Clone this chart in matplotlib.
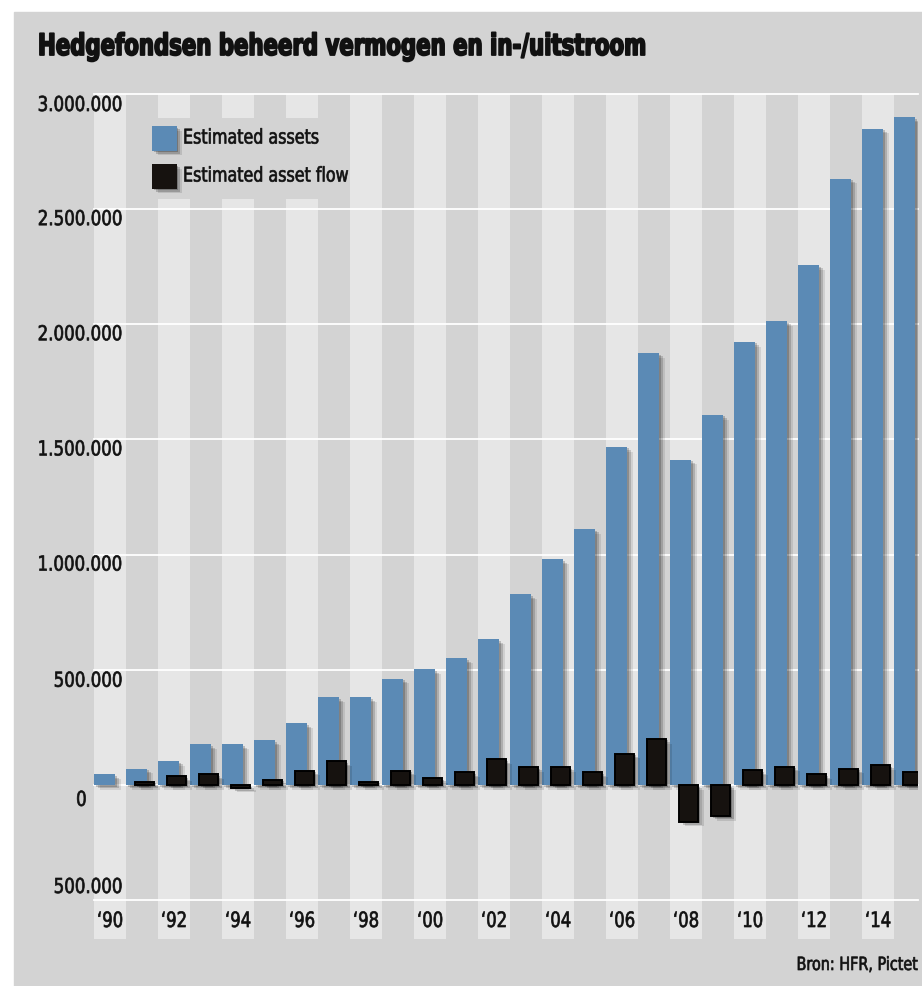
import matplotlib
matplotlib.use("Agg")
import matplotlib.pyplot as plt
import matplotlib.patheffects as pe
import matplotlib.transforms as mtransforms
from matplotlib.patches import Rectangle

# --- data --- #
years = list(range(1990, 2016))
assets = [45000, 70000, 103000, 176000, 176000, 193000, 267000, 380000,
          380000, 461000, 501000, 549000, 632000, 827000, 980000, 1111000,
          1468000, 1875000, 1412000, 1607000, 1924000, 2014000, 2257000,
          2632000, 2849000, 2898000]
flows = [0, 14000, 37000, 45000, -12000, 22000, 62000, 102000, 14000,
         62000, 30000, 54000, 111000, 77000, 77000, 54000, 135000, 200000,
         -160000, -135000, 63000, 79000, 45000, 70000, 86000, 54000]
ytick_values = [3000000, 2500000, 2000000, 1500000, 1000000, 500000, 0,
                -500000]
ytick_labels = ['3.000.000', '2.500.000', '2.000.000', '1.500.000',
                '1.000.000', '500.000', '0', '500.000']
series_names = ['Estimated assets', 'Estimated asset flow']
title = 'Hedgefondsen beheerd vermogen en in-/uitstroom'
source = 'Bron: HFR, Pictet'

# --- style --- #
BLUE = '#5b8ab5'
BLACK = '#16120f'
PANEL = '#d3d3d3'
STRIPE = '#e6e6e6'
INK = '#111111'

W, H = 922, 986
plt.rcParams['font.family'] = ['DejaVu Sans']


class Squeeze(pe.AbstractPathEffect):
    """ Draws text narrower (no condensed font installed), optionally
    with a thin outline to make it look heavier. """

    def __init__(self, sx=0.8, anchor='left', stroke=0.0):
        super().__init__()
        self.sx = sx
        self.anchor = anchor
        self.stroke = stroke

    def draw_path(self, renderer, gc, tpath, affine, rgbFace=None):
        ext = tpath.get_extents()
        if self.anchor == 'right':
            x0 = ext.x1
        elif self.anchor == 'center':
            x0 = (ext.x0 + ext.x1) / 2
        else:
            x0 = 0
        squeeze = (mtransforms.Affine2D().translate(-x0, 0)
                   .scale(self.sx, 1).translate(x0, 0))
        gc0 = renderer.new_gc()
        gc0.copy_properties(gc)
        if self.stroke > 0 and rgbFace is not None:
            gc0.set_linewidth(self.stroke)
            gc0.set_foreground(rgbFace)
            gc0.set_joinstyle('round')
        renderer.draw_path(gc0, tpath, squeeze + affine, rgbFace)
        gc0.restore()


def fig_xy(x_px, y_px):
    """ pixel position (from top left) -> figure fraction """
    return x_px / W, 1 - y_px / H


def shadow(strength=1.0):
    return [pe.SimplePatchShadow(offset=(1.2, -1.2), shadow_rgbFace='k',
                                 alpha=0.16 * strength),
            pe.SimplePatchShadow(offset=(2.6, -2.4), shadow_rgbFace='k',
                                 alpha=0.13 * strength),
            pe.SimplePatchShadow(offset=(4.0, -3.4), shadow_rgbFace='k',
                                 alpha=0.08 * strength),
            pe.Normal()]


fig = plt.figure(figsize=(W / 100, H / 100), dpi=100)
fig.patch.set_facecolor('white')
fig.patches.append(Rectangle(fig_xy(14, H), (W - 14) / W, (H - 12) / H,
                             transform=fig.transFigure, color=PANEL,
                             zorder=-5))

# plot area: 94..918 px wide, 94..939 px high
ax = fig.add_axes([94 / W, (H - 939) / H, 824 / W, 845 / H])
ax.set_facecolor('none')
px_y = 3500000 / 806
ax.set_xlim(years[0] - 0.5, years[0] - 0.5 + 824 / 32)
ax.set_ylim(3000000 - 845 * px_y, 3000000)
for side in ax.spines.values():
    side.set_visible(False)
ax.set_xticks([])
ax.set_yticks([])

# alternating column stripes
for i, yr in enumerate(years):
    if i % 2 == 0:
        ax.axvspan(yr - 0.5, yr + 0.5, color=STRIPE, lw=0, zorder=0)

for val in ytick_values:
    ax.axhline(val, color='white', lw=1.3, zorder=1, clip_on=False)

# bars
x_assets = [yr - 0.17 for yr in years]
x_flows = [yr + 0.08 for yr in years]
bars_a = ax.bar(x_assets, assets, width=0.66, color=BLUE, lw=0, zorder=3)
for b in bars_a:
    b.set_path_effects(shadow(1.2))
bars_f = ax.bar(x_flows, flows, width=0.6, color=BLACK, edgecolor='black',
                lw=1.4, zorder=4)
for b, v in zip(bars_f, flows):
    if v == 0:
        b.set_visible(False)
    b.set_path_effects(shadow(1.4))

# y labels, shifted a few pixels from their gridlines
label_dx = [123, 123, 123, 123, 123, 123, 87, 123]
label_dy = [-11, -10, -10, -10, -10, -11, -15, 13]
for val, lab, dx, dy in zip(ytick_values, ytick_labels, label_dx, label_dy):
    tr = mtransforms.offset_copy(ax.get_yaxis_transform(), fig=fig,
                                 x=0, y=dy, units='dots')
    ax.text((dx - 94) / 824, val, lab, transform=tr, ha='right',
            va='center', fontsize=14.8, color=INK, zorder=6,
            path_effects=[Squeeze(0.81, 'right', 0.5)])

# x labels on every other year
xt = ax.get_xaxis_transform()
for yr in years[::2]:
    ax.text(yr, (939 - 921) / 845, '\u2018' + str(yr)[2:], transform=xt,
            ha='center', va='center', fontsize=15.2, color=INK,
            path_effects=[Squeeze(0.78, 'center', 0.5)])

# legend, drawn by hand over a box that hides the stripes
ax.add_patch(Rectangle(((126 - 94) / 824, (939 - 199) / 845), 223 / 824,
                       81 / 845, transform=ax.transAxes, color=PANEL, lw=0,
                       zorder=2))
for name, col, top in zip(series_names, [BLUE, BLACK], [126, 164]):
    sq = Rectangle(((152 - 94) / 824, (939 - top - 24.6) / 845), 24.6 / 824,
                   24.6 / 845, transform=ax.transAxes, color=col, lw=0,
                   zorder=5)
    sq.set_path_effects(shadow(1.4))
    ax.add_patch(sq)
    ax.text((183 - 94) / 824, (939 - top - 12) / 845, name,
            transform=ax.transAxes, ha='left', va='center', fontsize=14.5,
            color=INK, zorder=6, path_effects=[Squeeze(0.79, 'left', 0.5)])

fig.text(*fig_xy(38, 55), title, ha='left', va='baseline', fontsize=21.4,
         fontweight='bold', color=INK,
         path_effects=[Squeeze(0.715, 'left', 1.3)])
fig.text(*fig_xy(917, 970), source, ha='right', va='baseline',
         fontsize=13.1, color=INK,
         path_effects=[Squeeze(0.79, 'right', 0.5)])

fig.savefig('out.png', dpi=100, facecolor=fig.get_facecolor())
